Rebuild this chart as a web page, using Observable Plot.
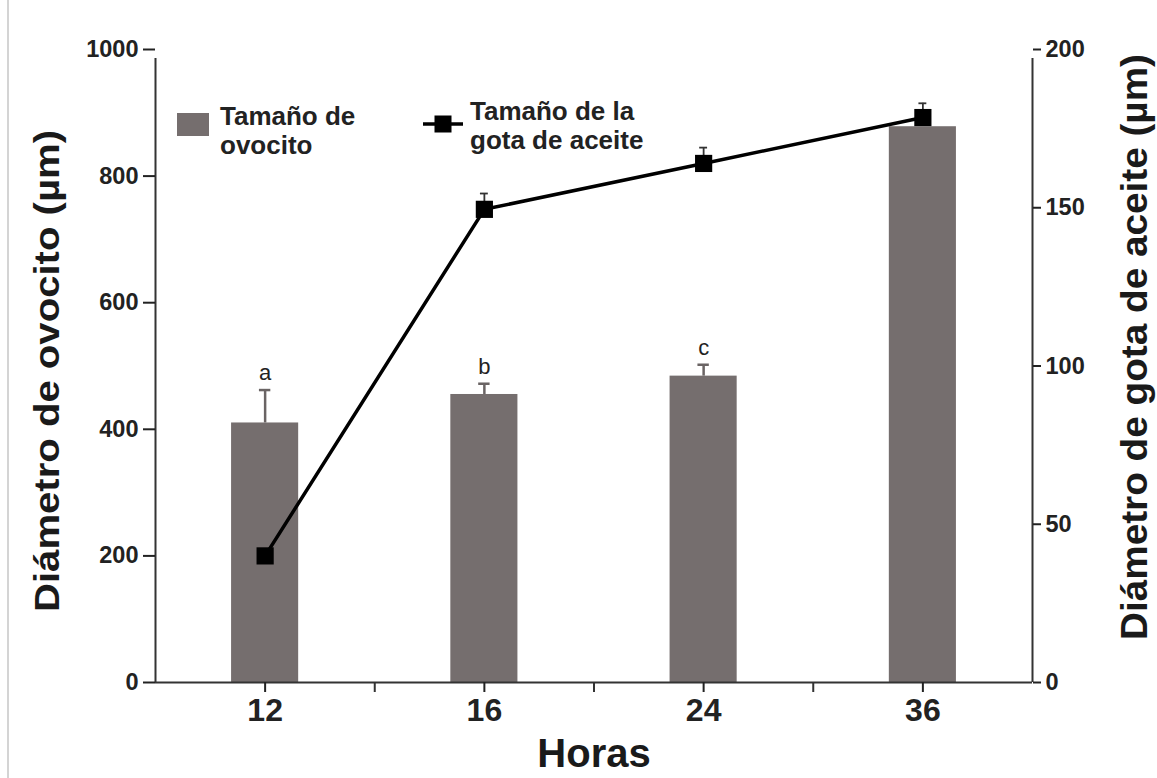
<!DOCTYPE html>
<html><head><meta charset="utf-8">
<script src="https://cdn.jsdelivr.net/npm/d3@7"></script>
<script src="https://cdn.jsdelivr.net/npm/@observablehq/plot@0.6"></script>
<style>
body{margin:0;background:#fff;font-family:"Liberation Sans",Arial,sans-serif;}
#wrap{position:relative;width:1157px;height:778px;overflow:hidden;}
#edge{position:absolute;left:7px;top:0;width:2px;height:778px;background:#d4d4d4;}
#chart{position:absolute;left:0;top:0;}
.lg{position:absolute;font-weight:bold;font-size:26px;line-height:29px;color:#222;}
.sw{position:absolute;}
</style></head>
<body><div id="wrap"><div id="edge"></div><div id="chart"></div>
<div class="sw" style="left:177px;top:113px;width:32px;height:23px;background:#756e6e"></div>
<div class="lg" style="left:220px;top:102px">Tamaño de<br>ovocito</div>
<svg class="sw" style="left:420px;top:112px" width="46" height="24"><line x1="3" y1="12" x2="43" y2="12" stroke="#000" stroke-width="3.5"/><rect x="14.5" y="3.5" width="17" height="17" fill="#000"/></svg>
<div class="lg" style="left:470px;top:97px">Tamaño de la<br>gota de aceite</div>
</div>
<script>
const hours = ["12", "16", "24", "36"];
const oocyteSize = [410, 455, 484, 878];
const oocyteErr = [52, 17, 18, 0];
const letters = ["a", "b", "c", ""];
const dropletSize = [40, 149.5, 164, 178.5];
const dropletErr = [0, 5, 5, 4.5];
const leftTicks = [0, 200, 400, 600, 800, 1000];
const rightTicks = [0, 50, 100, 150, 200];
const leftMax = 1000, rightMax = 200;
const k = leftMax / rightMax;
const leftTitle = "Diámetro de ovocito (µm)";
const rightTitle = "Diámetro de gota de aceite (µm)";
const xTitle = "Horas";

const rows = hours.map((h, i) => ({
  i, h,
  oo: oocyteSize[i], ooTop: oocyteSize[i] + oocyteErr[i], letter: letters[i],
  dr: dropletSize[i] * k, drTop: (dropletSize[i] + dropletErr[i]) * k
}));
const barHalf = 0.153, capHalf = 0.026, capHalf2 = 0.018;
const font = "Liberation Sans, Arial, sans-serif";

const chart = Plot.plot({
  width: 1157, height: 778,
  marginLeft: 155, marginRight: 125, marginTop: 49, marginBottom: 96,
  style: {fontFamily: font, background: "transparent"},
  x: {type: "linear", domain: [-0.5, hours.length - 0.5]},
  y: {domain: [0, leftMax]},
  marks: [
    Plot.rectY(rows, {x1: d => d.i - barHalf, x2: d => d.i + barHalf, y: "oo", fill: "#756e6e"}),
    Plot.ruleX(rows.filter(d => d.ooTop > d.oo), {x: "i", y1: "oo", y2: "ooTop", stroke: "#6a6464", strokeWidth: 2.5}),
    Plot.ruleY(rows.filter(d => d.ooTop > d.oo), {x1: d => d.i - capHalf, x2: d => d.i + capHalf, y: "ooTop", stroke: "#6a6464", strokeWidth: 2.5}),
    Plot.text(rows, {x: "i", y: "ooTop", text: "letter", dy: -17, fontSize: 22, fill: "#222"}),
    Plot.line(rows, {x: "i", y: "dr", stroke: "#000", strokeWidth: 3.5}),
    Plot.ruleX(rows.filter(d => d.drTop > d.dr), {x: "i", y1: "dr", y2: "drTop", stroke: "#333", strokeWidth: 1.8}),
    Plot.ruleY(rows.filter(d => d.drTop > d.dr), {x1: d => d.i - capHalf2, x2: d => d.i + capHalf2, y: "drTop", stroke: "#333", strokeWidth: 1.8}),
    Plot.dot(rows, {x: "i", y: "dr", symbol: "square", r: 9.7, fill: "#000"}),
    // axis lines
    Plot.ruleY([0], {x1: -0.5, x2: hours.length - 0.5, stroke: "#333", strokeWidth: 2}),
    Plot.ruleX([-0.5], {y1: 0, y2: leftMax, insetBottom: -9, stroke: "#333", strokeWidth: 2}),
    Plot.ruleX([hours.length - 0.5], {y1: 0, y2: leftMax, insetBottom: -9, stroke: "#333", strokeWidth: 2}),
    Plot.axisY({ticks: leftTicks, tickFormat: d => String(d), tickSize: 12, tickPadding: 5, fontSize: 23.5, fontWeight: "bold", color: "#222", strokeWidth: 2, label: null}),
    Plot.axisY({anchor: "right", ticks: rightTicks.map(v => v * k), tickFormat: d => String(d / k), tickSize: 8, tickPadding: 5, fontSize: 23.5, fontWeight: "bold", color: "#222", strokeWidth: 2, label: null}),
    Plot.axisX({ticks: hours.map((h, i) => i), tickFormat: i => hours[i], tickSize: 10, tickPadding: 6, fontSize: 32, fontWeight: "bold", color: "#222", strokeWidth: 2, label: null}),
    Plot.axisX({ticks: hours.slice(1).map((h, i) => i + 0.5), tickFormat: () => "", tickSize: 10, color: "#333", strokeWidth: 2, label: null}),
    Plot.text([leftTitle], {frameAnchor: "left", textAnchor: "middle", lineAnchor: "middle", rotate: -90, dx: -108, dy: 5, fontSize: 35, fontWeight: "bold", fill: "#1a1a1a"}),
    Plot.text([rightTitle], {frameAnchor: "right", textAnchor: "middle", lineAnchor: "middle", rotate: -90, dx: 103, dy: -19, fontSize: 36, fontWeight: "bold", fill: "#1a1a1a"}),
    Plot.text([xTitle], {frameAnchor: "bottom", lineAnchor: "middle", dy: 72, fontSize: 40, fontWeight: "bold", fill: "#1a1a1a"})
  ]
});
// stretch the rotated titles to the lengths they have in the reference
d3.select(chart).selectAll("text").each(function() {
  const t = this.textContent;
  if (t === leftTitle) d3.select(this).attr("textLength", 482).attr("lengthAdjust", "spacingAndGlyphs");
  if (t === rightTitle) d3.select(this).attr("textLength", 586).attr("lengthAdjust", "spacingAndGlyphs");
});
document.getElementById("chart").appendChild(chart);
</script>
</body></html>
